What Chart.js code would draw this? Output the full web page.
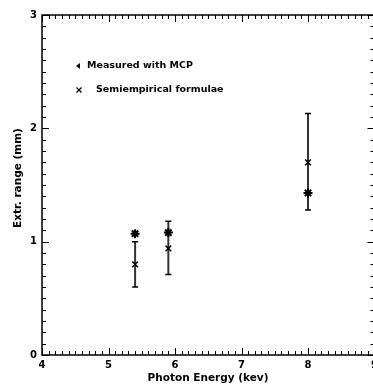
<!DOCTYPE html>
<html lang="en">
<head>
<meta charset="UTF-8">
<title>Extrapolated range vs photon energy</title>
<script src="https://cdn.jsdelivr.net/npm/chart.js"></script>
<style>
  html, body { margin: 0; padding: 0; background: #fff; overflow: hidden; }
  #wrap { width: 381px; height: 392px; }
</style>
</head>
<body>
<div id="wrap"><canvas id="rangeChart"></canvas></div>
<script>
// Photon energies (keV) and extrapolated ranges (mm)
const energy = [5.4, 5.9, 8.0];
const measured = [1.07, 1.08, 1.43];
const semiEmpirical = [0.80, 0.94, 1.70];
const errLow = [0.60, 0.71, 1.28];
const errHigh = [1.00, 1.18, 2.13];
const xTicks = [4, 5, 6, 7, 8, 9];
const yTicks = [0, 1, 2, 3];

const FONT = '"DejaVu Sans", sans-serif';

// one small line dataset per error bar, caps drawn as 'line' points
const errorSets = energy.map((e, i) => ({
  data: [{ x: e, y: errLow[i] }, { x: e, y: errHigh[i] }],
  showLine: true,
  borderColor: '#333',
  borderWidth: 2,
  pointStyle: 'line',
  pointRadius: 3,
  pointBorderWidth: 1.5,
  pointBorderColor: '#000',
  order: 3
}));

// inward ticks on all four sides, frame, titles and legend
const framePlugin = {
  id: 'frame',
  afterDraw(chart) {
    const { ctx, chartArea: a, scales: { x, y } } = chart;
    ctx.save();
    ctx.strokeStyle = '#000';
    ctx.lineWidth = 1.5;
    ctx.strokeRect(a.left, a.top, a.right - a.left, a.bottom - a.top);
    ctx.lineWidth = 1;
    ctx.beginPath();
    for (let i = 0; i <= 50; i++) {
      const px = Math.round(x.getPixelForValue(4 + i / 10)) + 0.5;
      const len = i % 10 === 0 ? 7 : 4;
      ctx.moveTo(px, a.bottom); ctx.lineTo(px, a.bottom - len);
      ctx.moveTo(px, a.top); ctx.lineTo(px, a.top + len);
    }
    for (let i = 0; i <= 30; i++) {
      const py = Math.round(y.getPixelForValue(i / 10)) + 0.5;
      const len = i % 10 === 0 ? 7 : 4;
      ctx.moveTo(a.left, py); ctx.lineTo(a.left + len, py);
      ctx.moveTo(a.right, py); ctx.lineTo(a.right - len, py);
    }
    ctx.stroke();

    ctx.fillStyle = '#000';
    ctx.font = 'bold 10.5px ' + FONT;
    ctx.textAlign = 'center';
    ctx.textBaseline = 'middle';
    ctx.fillText('Photon Energy (kev)', 208, 378);
    ctx.save();
    ctx.translate(18, 178);
    ctx.rotate(-Math.PI / 2);
    ctx.fillText('Extr. range (mm)', 0, 0);
    ctx.restore();

    // legend
    ctx.textAlign = 'left';
    ctx.font = 'bold 9.5px ' + FONT;
    ctx.beginPath();
    ctx.moveTo(76, 66); ctx.lineTo(80, 63); ctx.lineTo(80, 69); ctx.closePath();
    ctx.fill();
    ctx.fillText('Measured with MCP', 87, 66);
    ctx.lineWidth = 1.2;
    ctx.beginPath();
    ctx.moveTo(76.5, 87.5); ctx.lineTo(81.5, 92.5);
    ctx.moveTo(81.5, 87.5); ctx.lineTo(76.5, 92.5);
    ctx.stroke();
    ctx.fillText('Semiempirical formulae', 96, 90);
    ctx.restore();
  }
};

new Chart(document.getElementById('rangeChart'), {
  type: 'scatter',
  data: {
    datasets: [
      {
        label: 'Measured with MCP',
        data: energy.map((e, i) => ({ x: e, y: measured[i] })),
        pointStyle: 'star',
        pointRadius: 4.5,
        borderColor: '#000',
        backgroundColor: '#000',
        pointBorderWidth: 2,
        order: 1
      },
      {
        label: 'Semiempirical formulae',
        data: energy.map((e, i) => ({ x: e, y: semiEmpirical[i] })),
        pointStyle: 'crossRot',
        pointRadius: 4,
        borderColor: '#000',
        pointBorderWidth: 1.5,
        order: 2
      },
      ...errorSets
    ]
  },
  options: {
    responsive: true,
    maintainAspectRatio: false,
    animation: false,
    layout: { padding: { left: 0, top: 15, right: 2, bottom: 0 } },
    plugins: { legend: { display: false }, tooltip: { enabled: false } },
    scales: {
      x: {
        type: 'linear', min: 4, max: 9,
        afterFit: s => { s.height = 37; s.paddingLeft = 0; s.paddingRight = 0; },
        afterBuildTicks: s => { s.ticks = xTicks.map(v => ({ value: v })); },
        grid: { display: false, drawTicks: false },
        border: { display: false },
        ticks: { color: '#000', padding: 4, font: { family: FONT, size: 10, weight: 'bold' } }
      },
      y: {
        type: 'linear', min: 0, max: 3,
        afterFit: s => { s.width = 42; s.paddingTop = 0; s.paddingBottom = 0; },
        afterBuildTicks: s => { s.ticks = yTicks.map(v => ({ value: v })); },
        grid: { display: false, drawTicks: false },
        border: { display: false },
        ticks: { color: '#000', padding: 5, font: { family: FONT, size: 10, weight: 'bold' } }
      }
    }
  },
  plugins: [framePlugin]
});
</script>
</body>
</html>
